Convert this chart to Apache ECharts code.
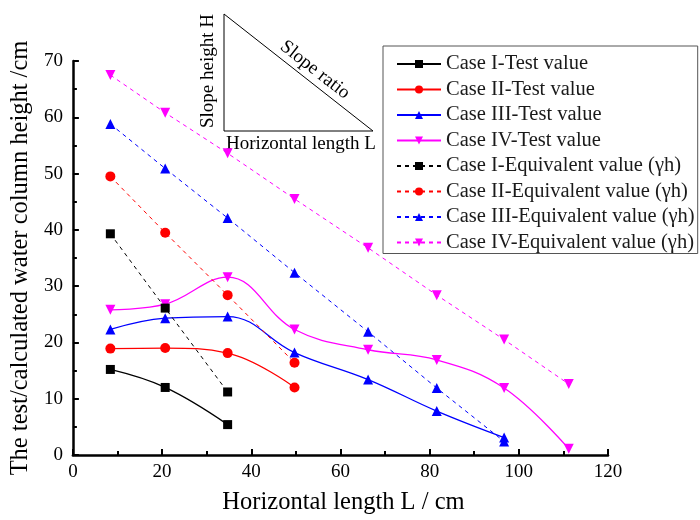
<!DOCTYPE html>
<html>
<head>
    <meta charset="utf-8">
    <title>ECharts</title>
    <script src="https://cdn.jsdelivr.net/npm/echarts@6/dist/echarts.min.js"></script>
</head>
<body style="margin:0">
<div id="main" style="width: 700px; height:520px;"></div>
<script type="text/javascript">
    // horizontal length of each slope (cm)
    var lengthL = [8.4, 20.7, 34.7, 49.7, 66.2, 81.6, 96.7, 111.2];

    // test values
    var test1 = [15.2, 12.0, 5.4];
    var test2 = [18.9, 19.0, 18.1, 12.0];
    var test3 = [22.3, 24.3, 24.6, 18.2, 13.4, 7.8, 3.1];
    var test4 = [25.8, 26.8, 31.6, 22.3, 18.7, 16.9, 11.9, 1.1];

    // equivalent values (γh)
    var equiv1 = [39.3, 26.1, 11.2];
    var equiv2 = [49.5, 39.5, 28.4, 16.4];
    var equiv3 = [58.8, 50.9, 42.1, 32.4, 21.9, 11.9, 2.4];
    var equiv4 = [67.5, 60.8, 53.6, 45.5, 36.8, 28.4, 20.5, 12.6];

    var names = [
        'Case I-Test value', 'Case II-Test value', 'Case III-Test value', 'Case IV-Test value',
        'Case I-Equivalent value (γh)', 'Case II-Equivalent value (γh)',
        'Case III-Equivalent value (γh)', 'Case IV-Equivalent value (γh)'
    ];
    var colors = ['#000000', '#ff0000', '#0000ff', '#ff00ff'];
    var symbols = ['rect', 'circle', 'triangle', 'triangle'];
    var rotates = [0, 0, 0, 180];
    var sizes = [9, 10, 10, 10];

    var font = "'Liberation Serif', 'Times New Roman', serif";

    function pairs(vals) {
        return vals.map(function (v, i) { return [lengthL[i], v]; });
    }

    var series = [];
    [test1, test2, test3, test4].forEach(function (vals, i) {
        series.push({
            name: names[i],
            type: 'line',
            data: pairs(vals),
            smooth: 0.4,
            symbol: symbols[i],
            symbolSize: sizes[i],
            symbolRotate: rotates[i],
            itemStyle: {color: colors[i]},
            lineStyle: {color: colors[i], width: 1.3, type: 'solid'}
        });
    });
    [equiv1, equiv2, equiv3, equiv4].forEach(function (vals, i) {
        series.push({
            name: names[i + 4],
            type: 'line',
            data: pairs(vals),
            symbol: symbols[i],
            symbolSize: sizes[i],
            symbolRotate: rotates[i],
            itemStyle: {color: colors[i]},
            lineStyle: {color: colors[i], width: 1, type: [4, 4]}
        });
    });

    var axisLine = {show: true, lineStyle: {color: '#000', width: 2.5}};

    var myChart = echarts.init(document.getElementById('main'));
    var option = {
        backgroundColor: '#fff',
        animation: false,
        grid: {left: 72, top: 61, width: 536, height: 400},
        legend: {
            orient: 'vertical',
            left: 383,
            top: 46,
            backgroundColor: '#fff',
            borderColor: '#555',
            borderWidth: 1,
            borderRadius: 0,
            padding: [7, 3, 0, 13],
            itemGap: 3.5,
            itemWidth: 44,
            itemHeight: 10,
            textStyle: {fontFamily: font, fontSize: 20.5, color: '#1a1a1a', lineHeight: 22},
            data: names
        },
        xAxis: {
            type: 'value',
            min: 0, max: 120, interval: 20,
            name: 'Horizontal length L / cm',
            nameLocation: 'middle',
            nameGap: 35,
            nameTextStyle: {fontFamily: font, fontSize: 24.5, color: '#000', padding: [0, 0, 0, 6]},
            axisLine: axisLine,
            axisTick: {inside: true, length: 6, lineStyle: {width: 2}},
            minorTick: {show: true, splitNumber: 2, length: 4, lineStyle: {color: '#000', width: 2}},
            axisLabel: {fontFamily: font, fontSize: 19, color: '#000', margin: 8},
            splitLine: {show: false}
        },
        yAxis: {
            type: 'value',
            min: 0, max: 70, interval: 10,
            name: 'The test/calculated water column height /cm',
            nameLocation: 'middle',
            nameGap: 36,
            nameTextStyle: {fontFamily: font, fontSize: 24.5, color: '#000'},
            axisLine: axisLine,
            axisTick: {inside: true, length: 6, lineStyle: {width: 2}},
            minorTick: {show: true, splitNumber: 2, length: 4, lineStyle: {color: '#000', width: 2}},
            axisLabel: {fontFamily: font, fontSize: 19, color: '#000', margin: 10},
            splitLine: {show: false}
        },
        graphic: [
            {
                type: 'polygon',
                shape: {points: [[224, 14], [224, 131], [373, 131]]},
                style: {fill: 'none', stroke: '#000', lineWidth: 1}
            },
            {
                type: 'text',
                x: 208, y: 71, rotation: Math.PI / 2,
                style: {text: 'Slope height H', font: "19px " + font, fill: '#000',
                    align: 'center', verticalAlign: 'middle'}
            },
            {
                type: 'text',
                x: 301, y: 144,
                style: {text: 'Horizontal length L', font: "19px " + font, fill: '#000',
                    align: 'center', verticalAlign: 'middle'}
            },
            {
                type: 'text',
                x: 315, y: 70, rotation: -0.665,
                style: {text: 'Slope ratio', font: "19px " + font, fill: '#000',
                    align: 'center', verticalAlign: 'middle'}
            }
        ],
        series: series
    };
    myChart.setOption(option);
</script>
</body>
</html>
